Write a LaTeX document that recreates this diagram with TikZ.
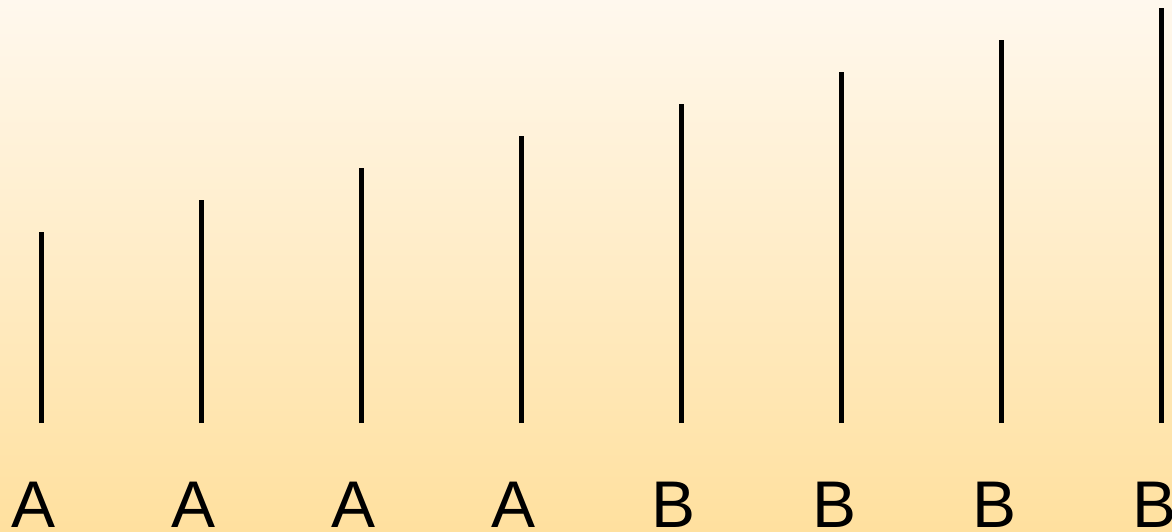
\documentclass[tikz,border=0pt]{standalone}
\usepackage{fontspec}
\setmainfont{Liberation Sans}
\usepackage{xcolor}
\definecolor{paper_top}{RGB}{255,248,238}
\definecolor{paper_bottom}{RGB}{255,224,158}
\usepackage{tikz}

\begin{document}
\begin{tikzpicture}[x=1pt, y=-1pt,
  bar/.style={line width=5pt, draw=black},
  tag/.style={anchor=base, inner sep=0pt, font=\fontsize{66}{70}\selectfont}]
\useasboundingbox (0,0) rectangle (1172,532);
\shade [top color=paper_top, bottom color=paper_bottom] (0,0) rectangle (1172,532);

\clip (0,0) rectangle (1172,532);
\foreach \i/\lab in {0/A,1/A,2/A,3/A,4/B,5/B,6/B,7/B} {
  \coordinate (b\i) at (41+160*\i, 423);
  \coordinate (t\i) at (41+160*\i, 232-32*\i);
  \draw [bar] (b\i) -- (t\i);
  \node [tag] (lbl\i) at (34+160*\i, 527) {\lab};
}

\end{tikzpicture}
\end{document}
